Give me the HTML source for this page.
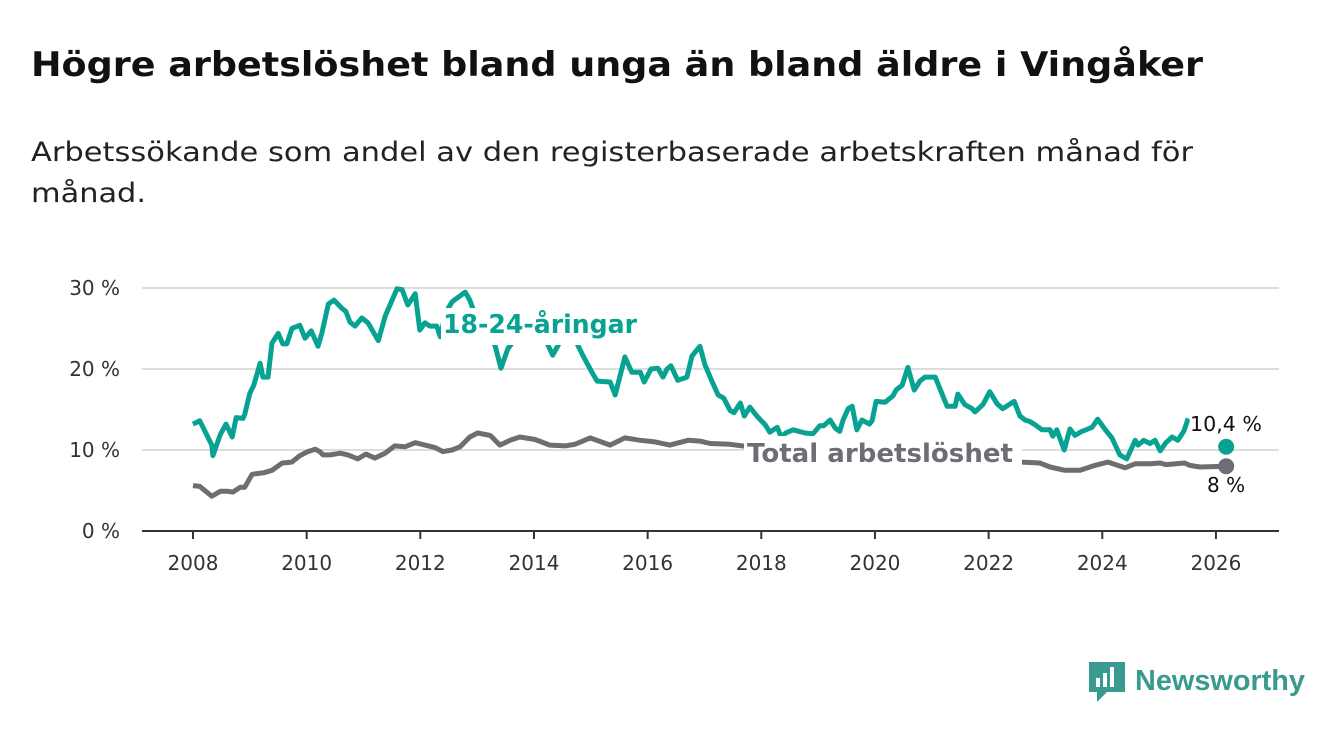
<!DOCTYPE html>
<html><head><meta charset="utf-8">
<style>
body{margin:0;background:#fff;width:1340px;height:734px;overflow:hidden;font-family:"DejaVu Sans","Liberation Sans",sans-serif;}
</style></head>
<body>
<svg id="chart" width="1340" height="734" style="position:absolute;left:0;top:0" xmlns="http://www.w3.org/2000/svg">
<text x="31" y="76" font-size="34" font-weight="bold" fill="#111" textLength="1172" lengthAdjust="spacingAndGlyphs">Högre arbetslöshet bland unga än bland äldre i Vingåker</text>
<text x="31" y="161" font-size="27" fill="#222" textLength="1162" lengthAdjust="spacingAndGlyphs">Arbetssökande som andel av den registerbaserade arbetskraften månad för</text>
<text x="31" y="202" font-size="27" fill="#222" textLength="115" lengthAdjust="spacingAndGlyphs">månad.</text>
</svg>
<script>
const yTicks=[0,10,20,30];
const yTickLabels=["0 %","10 %","20 %","30 %"];
const xTicks=[2008,2010,2012,2014,2016,2018,2020,2022,2024,2026];
const youthX=[2008.00,2008.12,2008.33,2008.35,2008.48,2008.58,2008.69,2008.76,2008.88,2008.91,2009.00,2009.07,2009.18,2009.23,2009.32,2009.39,2009.50,2009.58,2009.65,2009.74,2009.88,2009.97,2010.08,2010.20,2010.27,2010.38,2010.48,2010.62,2010.69,2010.76,2010.85,2010.97,2011.08,2011.26,2011.38,2011.59,2011.68,2011.78,2011.91,2011.99,2012.08,2012.17,2012.29,2012.35,2012.45,2012.56,2012.79,2012.87,2013.05,2013.31,2013.42,2013.54,2013.75,2014.02,2014.19,2014.33,2014.46,2014.60,2014.74,2014.88,2015.02,2015.11,2015.34,2015.43,2015.60,2015.72,2015.87,2015.94,2016.06,2016.18,2016.27,2016.34,2016.41,2016.53,2016.69,2016.78,2016.92,2017.01,2017.13,2017.24,2017.34,2017.45,2017.52,2017.63,2017.70,2017.80,2017.92,2018.07,2018.15,2018.28,2018.35,2018.43,2018.56,2018.77,2018.91,2019.03,2019.10,2019.21,2019.30,2019.38,2019.44,2019.53,2019.60,2019.68,2019.77,2019.90,2019.95,2020.02,2020.18,2020.32,2020.37,2020.48,2020.58,2020.69,2020.79,2020.88,2021.06,2021.27,2021.41,2021.46,2021.58,2021.71,2021.76,2021.90,2022.02,2022.15,2022.25,2022.38,2022.45,2022.55,2022.64,2022.73,2022.82,2022.94,2023.08,2023.13,2023.20,2023.33,2023.43,2023.52,2023.64,2023.82,2023.92,2024.03,2024.17,2024.31,2024.43,2024.58,2024.63,2024.73,2024.84,2024.93,2025.02,2025.12,2025.23,2025.33,2025.44,2025.51,2026.18];
const youthY=[13.2,13.6,10.6,9.3,11.9,13.2,11.6,14,13.9,14.4,17,18,20.7,19,19,23.2,24.4,23.1,23.1,25,25.4,23.8,24.7,22.8,24.5,28,28.5,27.5,27.1,25.8,25.3,26.3,25.7,23.5,26.5,29.9,29.8,27.9,29.3,24.8,25.7,25.3,25.3,24,27,28.3,29.5,28.5,25,23,20.1,22.5,24.5,24,23.8,21.7,23.4,23.7,23.4,21.4,19.6,18.5,18.4,16.8,21.5,19.6,19.6,18.4,20,20.1,19,20,20.4,18.6,19,21.6,22.8,20.5,18.5,16.8,16.4,14.9,14.6,15.8,14.2,15.3,14.2,13.1,12.2,12.8,11.6,12.1,12.5,12.1,12,13,13,13.7,12.7,12.3,13.7,15.1,15.4,12.5,13.7,13.2,13.6,16,15.9,16.7,17.4,18,20.2,17.4,18.5,19,19,15.4,15.4,16.9,15.6,15.1,14.7,15.6,17.2,15.7,15.1,15.7,16,14.2,13.7,13.5,13.1,12.5,12.5,11.7,12.5,10,12.6,11.8,12.3,12.8,13.8,12.7,11.5,9.4,8.9,11.2,10.6,11.2,10.8,11.2,9.9,10.9,11.6,11.2,12.4,13.9,10.4];
const totalX=[2008.00,2008.12,2008.33,2008.48,2008.62,2008.70,2008.83,2008.91,2009.04,2009.14,2009.25,2009.39,2009.57,2009.74,2009.88,2010.02,2010.15,2010.23,2010.29,2010.41,2010.59,2010.73,2010.90,2011.04,2011.20,2011.38,2011.55,2011.73,2011.91,2012.08,2012.26,2012.40,2012.56,2012.70,2012.87,2013.01,2013.23,2013.40,2013.58,2013.75,2014.02,2014.28,2014.55,2014.72,2014.99,2015.34,2015.60,2015.87,2016.13,2016.39,2016.71,2016.92,2017.10,2017.45,2017.66,2017.98,2018.50,2019.21,2019.91,2020.62,2021.32,2022.02,2022.59,2022.90,2023.08,2023.34,2023.61,2023.87,2024.10,2024.40,2024.58,2024.84,2025.02,2025.12,2025.45,2025.54,2025.72,2026.18];
const totalY=[5.6,5.5,4.3,4.9,4.9,4.8,5.4,5.4,7,7.1,7.2,7.5,8.4,8.5,9.3,9.8,10.1,9.8,9.4,9.4,9.6,9.4,8.9,9.5,9,9.6,10.5,10.4,10.9,10.6,10.3,9.8,10,10.4,11.6,12.1,11.8,10.6,11.2,11.6,11.3,10.6,10.5,10.7,11.5,10.6,11.5,11.2,11,10.6,11.2,11.1,10.8,10.7,10.5,10.3,10,8.6,8.7,9.2,9.1,8.8,8.5,8.4,7.9,7.5,7.5,8.1,8.5,7.8,8.3,8.3,8.4,8.2,8.4,8.1,7.9,8.0];
const svg=document.getElementById('chart');
const NS='http://www.w3.org/2000/svg';
const X=v=>193+(v-2008)*56.83;
const Y=v=>531-v*8.1;
function mk(t,a,txt){const e=document.createElementNS(NS,t);for(const k in a)e.setAttribute(k,a[k]);if(txt!=null)e.textContent=txt;svg.appendChild(e);return e;}
yTicks.forEach((t,i)=>{
 if(t>0){const g=mk('line',{x1:142,x2:1279,y1:Y(t),y2:Y(t),stroke:'#dddddd','stroke-width':2});
 
 }
 const l=mk('text',{x:120,y:Y(t)+7,'text-anchor':'end','font-size':20,fill:'#333'},yTickLabels[i]);
 
 
});
const ax=mk('line',{x1:142,x2:1279,y1:531,y2:531,stroke:'#333','stroke-width':2});


xTicks.forEach(t=>{
 const tk=mk('line',{x1:X(t),x2:X(t),y1:531,y2:539,stroke:'#333','stroke-width':2});
 
 
 const l=mk('text',{x:X(t),y:570,'text-anchor':'middle','font-size':20,fill:'#333'},String(t));
 
 
});
function line(xs,ys,col,name,full){
 const n=xs.length-1;
 const m=full?n+1:n;
 const d=xs.slice(0,m).map((x,i)=>(i?'L':'M')+X(x).toFixed(1)+','+Y(ys[i]).toFixed(1)).join('');
 const p=mk('path',{d:d,fill:'none',stroke:col,'stroke-width':5,'stroke-linejoin':'round'});
 
 
 const c=mk('circle',{cx:X(xs[n]),cy:Y(ys[n]),r:8,fill:col});
 
 
}
line(totalX,totalY,'#6e6d73','total-line',true);
line(youthX,youthY,'#08a293','youth-line',false);
let b1=mk('rect',{x:441,y:308,width:200,height:37,fill:'#fff'});


let b2=mk('rect',{x:744,y:436,width:278,height:36,fill:'#fff'});


const halo={stroke:'#fff','stroke-width':6,'paint-order':'stroke','stroke-linejoin':'round'};
let t1=mk('text',{x:443,y:333,'font-size':26,'font-weight':'bold',fill:'#08a293',textLength:194,lengthAdjust:'spacingAndGlyphs'},'18-24-åringar');


let t2=mk('text',{x:747,y:462,'font-size':26,'font-weight':'bold',fill:'#6e6d73',textLength:266,lengthAdjust:'spacingAndGlyphs'},'Total arbetslöshet');


let v1=mk('text',Object.assign({x:1190,y:431,'font-size':20,fill:'#111',textLength:72,lengthAdjust:'spacingAndGlyphs'},halo),'10,4 %');


let v2=mk('text',Object.assign({x:1207,y:492,'font-size':20,fill:'#111'},halo),'8 %');


let lg=mk('g',{});


lg.innerHTML='<path d="M1089 662h36v30h-18l-10 10v-10h-8z" fill="#3a9a90"/><rect x="1096" y="678" width="4" height="9" fill="#fff"/><rect x="1103" y="673" width="4" height="14" fill="#fff"/><rect x="1110" y="667" width="4" height="20" fill="#fff"/><text x="1135" y="690" font-size="29" font-weight="bold" fill="#3a9a90" font-family="Liberation Sans, sans-serif" textLength="170" lengthAdjust="spacingAndGlyphs">Newsworthy</text>';
</script>
</body></html>
